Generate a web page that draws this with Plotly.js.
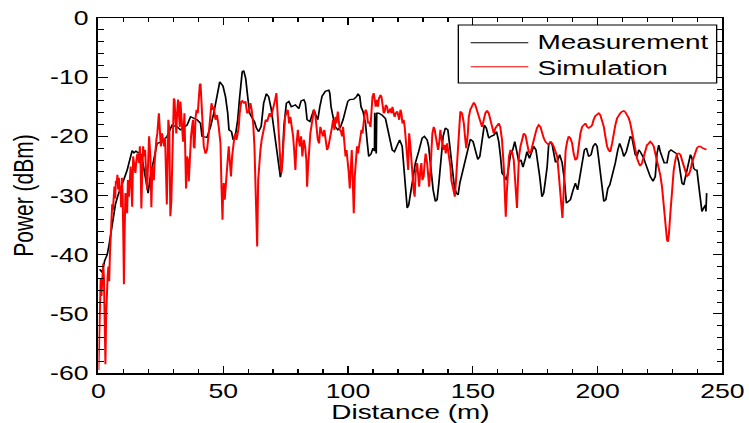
<!DOCTYPE html>
<html>
<head>
<meta charset="utf-8">
<script src="https://cdn.plot.ly/plotly-3.0.1.min.js"></script>
<style>
  html, body { margin: 0; padding: 0; background: #fff; overflow: hidden; }
  /* the figure is laid out narrow and widened horizontally */
  #chart { width: 563px; height: 423px; transform: scaleX(1.33037); transform-origin: 0 0; }
</style>
</head>
<body>
<div id="chart"></div>
<script>
// Measured received power along the route
const measDist = [
  0.5,1.5,2.5,3.5,4.2,5.0,5.8,6.8,7.8,8.8,
  10.0,11.5,12.8,13.5,14.2,15.0,16.2,17.0,17.8,18.8,
  19.9,20.8,22.2,23.5,25.5,27.5,29.5,31.5,32.85,35.5,
  36.9,39.5,40.9,41.5,43.5,44.9,46.2,47.5,48.6,49.9,
  50.9,51.8,52.3,53.3,54.0,54.9,55.8,56.6,57.6,58.2,
  59.0,59.8,60.6,61.6,62.5,63.3,64.2,65.2,66.2,67.3,
  68.2,69.2,70.2,71.3,72.2,72.9,73.6,74.3,75.3,76.3,
  77.3,78.9,80.3,81.2,82.3,82.9,83.6,84.7,85.6,86.3,
  87.1,87.9,88.7,89.6,90.9,92.3,92.7,93.2,94.0,94.9,
  95.9,97.0,98.0,99.0,99.9,100.7,102.3,103.4,104.0,104.7,
  105.2,106.0,107.0,107.6,108.3,109.2,110.0,110.6,110.7,111.3,
  111.5,112.3,113.6,115.0,115.65,116.3,117.0,117.7,118.6,119.7,
  120.7,121.7,122.3,123.0,123.7,124.3,125.0,125.7,127.0,128.3,
  129.7,130.6,131.7,132.3,133.0,134.1,135.0,135.7,136.4,137.3,
  138.1,139.0,140.0,140.8,141.7,142.6,143.4,144.1,144.8,146.1,
  147.0,148.0,149.0,150.1,151.0,152.0,152.8,153.7,154.6,155.4,
  156.4,157.3,158.4,159.5,160.4,161.1,161.7,162.7,163.5,164.4,
  165.1,166.0,166.8,167.5,168.4,169.3,170.1,171.1,171.7,172.7,
  173.5,174.4,175.3,176.0,176.8,177.7,178.4,179.1,179.8,180.4,
  181.1,181.8,182.4,183.1,183.8,184.8,185.8,186.7,187.5,188.4,
  189.1,190.2,191.1,192.0,192.8,193.8,194.7,195.5,196.4,197.4,
  198.2,199.1,199.8,200.5,201.1,201.8,202.5,203.3,204.1,204.9,
  206.2,207.1,208.1,208.85,209.8,210.5,211.5,212.5,213.1,213.8,
  214.5,215.1,215.8,216.5,217.1,217.8,218.5,219.1,220.1,221.1,
  222.2,223.1,223.8,224.5,225.1,225.8,226.7,227.8,228.6,229.4,
  230.5,231.6,232.5,233.2,233.8,234.5,235.2,235.8,236.5,237.2,
  237.8,238.5,239.2,239.8,240.5,241.2,241.8,242.5,243.2,243.4,243.7
];
const measPower = [
  -42.5,-43,-41,-40,-38.5,-36,-34,-31.5,-30,-29,
  -27.5,-25.7,-23.4,-22.4,-22.8,-22.5,-22.8,-23,-24.5,-27.4,
  -29.6,-26.8,-24,-21.2,-20.9,-20,-18.1,-18.4,-18.9,-18.1,
  -16.7,-17.2,-17.8,-20.0,-20.2,-18.4,-16.1,-12.7,-10.8,-11.5,
  -13.3,-16.1,-18.9,-19.2,-20.6,-19.8,-17.2,-13.3,-9.1,-8.9,
  -10.2,-13.3,-16.1,-16.9,-17.5,-18.6,-19.2,-18.3,-14.4,-12.8,
  -13.3,-15.3,-18.4,-21.2,-24.0,-26.9,-25.1,-18.4,-14.4,-14.1,
  -15.0,-14.7,-15.3,-14.0,-13.8,-14.4,-17.2,-17.5,-16.4,-15.5,
  -16.4,-17.2,-15.0,-13.2,-12.4,-12.2,-12.7,-15.0,-16.7,-18.4,
  -18.9,-18.4,-17.2,-15.8,-14.1,-13.8,-13.7,-13.3,-12.8,-13.2,
  -15.0,-15.8,-17.8,-20.6,-23.4,-23.0,-22.0,-22.5,-16.0,-22.9,
  -16.1,-16.1,-16.4,-17.0,-18.4,-20.0,-21.5,-22.3,-22.6,-21.7,
  -20.6,-21.7,-25.1,-29.6,-32.1,-31.6,-29.6,-27.4,-24.5,-22.6,
  -20.3,-20.0,-20.6,-21.7,-25.1,-29.05,-31.0,-30.7,-27.9,-23.4,
  -20.0,-18.6,-18.9,-21.7,-25.1,-28.5,-29.6,-29.9,-27.9,-25.4,
  -23.7,-21.7,-20.5,-20.9,-22.3,-23.9,-23.4,-20.6,-18.1,-18.6,
  -20.3,-20.0,-19.8,-19.2,-20.9,-23.4,-26.2,-26.8,-27.4,-25.1,
  -23.1,-22.3,-20.9,-22.3,-24.3,-24.0,-25.2,-23.7,-22.6,-23.7,
  -22.9,-21.7,-22.3,-24.0,-26.8,-30.2,-29.6,-27.4,-25.1,-21.4,
  -20.9,-21.4,-22.9,-24.3,-24.3,-23.1,-24.5,-27.4,-31.3,-31.0,
  -30.7,-29.05,-27.9,-29.05,-26.8,-24.5,-22.3,-22.0,-23.4,-23.1,
  -21.7,-21.2,-21.7,-24.0,-26.5,-29.05,-31.0,-30.7,-28.8,-28.2,
  -26.2,-24.5,-22.3,-21.2,-22.3,-23.4,-22.6,-20.6,-20.0,-20.3,
  -22.0,-23.1,-23.4,-22.3,-22.6,-23.1,-23.7,-24.5,-25.7,-26.8,
  -27.6,-26.8,-22.9,-21.5,-22.6,-23.7,-24.5,-24.5,-22.6,-22.3,
  -22.6,-22.9,-24.3,-26.0,-27.9,-28.2,-26.8,-25.4,-24.3,-23.1,
  -23.7,-25.4,-25.7,-25.7,-28.2,-31.6,-32.7,-32.1,-31.6,-32.7,-29.6
];

// Simulated received power along the same route
const simDist = [
  0.0,0.3,0.6,0.9,1.2,1.5,1.9,2.2,2.5,2.8,
  3.1,3.4,3.7,4.0,4.3,4.6,4.9,5.2,5.5,5.8,
  6.1,6.4,6.7,7.0,7.3,7.6,7.9,8.2,8.5,8.8,
  9.1,9.4,9.7,10.0,10.2,10.5,10.8,11.1,11.5,11.8,
  12.2,12.6,12.9,13.2,13.5,13.9,14.3,14.8,15.2,15.6,
  16.2,16.6,16.9,17.2,17.5,17.9,18.3,18.7,19.1,19.5,
  19.9,20.3,20.8,21.2,21.6,22.2,22.5,22.8,23.2,23.6,
  23.9,24.2,24.6,25.0,25.3,25.5,25.9,26.3,26.7,27.1,
  27.4,27.7,28.0,28.4,28.8,29.2,29.5,29.8,30.2,30.5,
  30.85,31.2,31.5,31.9,32.2,32.6,
  32.85,33.5,33.9,34.45,34.85,35.1,35.5,35.9,36.2,36.6,
  37.1,37.5,37.9,38.2,38.5,38.9,39.3,39.8,40.2,40.6,
  40.9,41.3,41.7,42.2,42.9,43.5,44.2,44.9,45.3,45.8,
  46.2,46.9,47.5,48.2,48.9,49.3,49.7,49.95,50.2,50.6,
  51.0,51.5,52.2,52.6,53.1,53.55,54.0,54.5,54.9,55.3,
  55.8,56.2,56.6,57.2,57.7,58.2,58.9,59.6,60.2,60.9,
  61.4,62.0,62.5,63.0,63.6,64.0,64.4,64.9,65.4,66.0,
  66.5,67.0,67.6,68.1,68.6,69.2,69.7,70.2,70.8,71.3,
  71.7,72.1,72.5,72.9,73.3,73.7,74.25,74.8,75.3,75.85,
  76.4,76.9,77.45,78.0,78.5,78.9,79.3,79.9,80.3,80.7,
  81.2,81.7,82.3,82.8,83.3,83.6,84.0,84.4,84.9,85.3,
  85.7,86.3,86.9,87.3,87.9,88.4,88.9,89.6,90.0,90.5,
  91.1,91.6,92.15,92.7,93.2,93.6,94.0,94.55,95.0,95.35,
  95.9,96.3,96.7,97.2,97.6,98.0,98.6,99.0,99.4,99.9,
  100.3,100.7,101.1,101.5,101.9,102.3,102.7,103.1,103.6,104.0,
  104.4,105.0,105.4,105.8,106.3,106.7,107.1,107.6,108.0,108.4,
  109.0,109.4,109.8,110.3,110.7,111.1,111.6,112.0,112.4,113.0,
  113.4,113.8,114.3,114.7,115.1,115.65,116.05,116.45,117.0,117.4,
  117.8,118.3,118.7,119.1,119.7,120.1,120.5,121.0,121.4,121.8,
  122.3,122.7,123.1,123.7,124.1,124.5,125.0,125.4,125.8,126.3,
  126.7,127.1,127.7,128.1,128.5,129.0,129.4,129.8,130.3,130.7,
  131.1,131.7,132.1,132.5,133.0,133.4,133.8,134.35,134.75,135.15,
  135.7,136.1,136.5,137.0,137.4,137.8,138.35,138.75,139.15,139.7,
  140.1,140.5,141.0,141.4,141.8,142.4,142.8,143.2,143.7,144.1,
  144.5,145.0,145.7,146.4,147.0,147.4,148.0,148.4,149.0,149.7,
  150.4,151.0,151.7,152.4,153.0,153.7,154.4,155.0,155.7,156.4,
  157.05,157.7,158.4,159.05,159.7,160.4,161.0,161.7,162.4,162.8,
  163.2,163.6,164.0,164.5,165.1,165.7,166.4,166.8,167.2,167.7,
  168.1,168.5,169.1,169.7,170.4,171.1,171.7,172.4,173.1,173.7,
  174.4,175.1,175.7,176.4,177.1,177.75,178.4,179.1,179.8,180.4,
  181.1,181.8,182.4,183.1,183.8,184.4,185.1,185.5,185.9,186.3,
  186.7,187.2,187.8,188.4,189.1,189.8,190.4,191.1,191.8,192.4,
  193.1,193.8,194.4,195.1,195.8,196.4,197.1,197.8,198.4,199.1,
  199.8,200.45,201.1,201.8,202.5,203.1,203.8,204.5,205.1,205.8,
  206.4,207.1,207.8,208.45,209.1,209.8,210.5,211.1,211.8,212.5,
  213.1,213.8,214.5,215.1,215.8,216.5,217.1,217.8,218.5,219.1,
  219.8,220.5,221.1,221.8,222.5,223.1,223.8,224.5,225.1,225.8,
  226.5,227.15,227.8,228.2,228.6,229.15,229.8,230.5,231.15,231.8,
  232.5,233.2,233.8,234.5,235.2,235.8,236.5,237.2,237.8,238.5,
  239.2,239.8,240.5,241.2,241.8,242.5,243.2,243.6
];
const simPower = [
  -59.5,-52,-47,-44,-47,-43,-41.5,-44,-50,-58.5,
  -50,-45,-43.5,-42,-44.5,-40,-36,-34,-31.5,-32.5,
  -29.5,-28.5,-30.5,-27.5,-28,-26.5,-29,-27,-29.5,-28.5,
  -32,-27,-30,-38,-45,-36,-29.6,-31,-33,-27.4,
  -30.2,-26.2,-25.1,-28,-31.9,-23.4,-24.5,-26.2,-24,-22.9,
  -24.5,-21.7,-25.1,-32.2,-26.8,-21.7,-23.4,-22.3,-26.2,-29,
  -24.5,-20,-23.4,-32,-25.1,-27.4,-24.5,-21.7,-20.6,-19.5,
  -17.2,-16.1,-18.9,-21.7,-20.6,-19.5,-20.6,-21.7,-20.3,-29,
  -31.5,-24.5,-17.2,-18.9,-33.5,-31,-27.4,-20.6,-13.6,-13.9,
  -17.2,-19.5,-16.1,-13.8,-16,-18.4,
  -14.1,-17.2,-20.9,-16.1,-21.2,-28.8,-23.4,-24.0,-27.6,-22.9,
  -20.0,-18.4,-17.2,-21.7,-22.0,-16.9,-15.5,-16.1,-12.7,-11.3,
  -11.1,-13.8,-18.4,-21.7,-22.9,-22.3,-19.5,-15.5,-14.4,-15.5,
  -15.0,-17.2,-16.4,-18.4,-21.2,-28.5,-34.1,-29.6,-27.9,-30.7,
  -28.5,-25.1,-21.7,-24.0,-26.8,-23.4,-21.4,-20.0,-19.5,-20.6,
  -19.5,-18.4,-16.1,-14.1,-14.0,-14.4,-14.1,-16.1,-15.8,-14.4,
  -15.5,-17.8,-21.7,-29.05,-38.6,-27.4,-23.4,-22.3,-20.6,-18.9,
  -17.8,-17.2,-17.5,-16.9,-16.1,-16.7,-15.5,-15.0,-13.8,-12.7,
  -15.0,-19.5,-21.2,-24.5,-26.2,-24.0,-19.5,-16.7,-16.1,-15.5,
  -17.8,-16.7,-18.4,-20.0,-22.9,-25.7,-21.7,-18.9,-20.6,-21.7,
  -20.0,-23.4,-20.6,-21.7,-24.0,-28.5,-25.1,-21.7,-19.5,-18.4,
  -17.2,-15.5,-16.4,-18.4,-20.6,-21.2,-18.4,-19.5,-20.0,-18.9,
  -20.6,-22.3,-21.7,-20.6,-18.9,-18.4,-17.2,-18.9,-16.7,-17.8,
  -15.8,-18.4,-18.9,-19.2,-20.0,-18.4,-22.3,-23.4,-22.3,-24.0,
  -26.2,-28.8,-24.0,-22.3,-27.4,-33.0,-26.8,-23.4,-21.7,-22.9,
  -21.7,-20.0,-18.9,-19.5,-17.2,-16.1,-15.5,-16.1,-17.8,-17.5,
  -18.4,-15.5,-13.3,-12.7,-14.4,-15.0,-13.85,-15.0,-13.6,-13.0,
  -13.3,-15.0,-16.1,-15.8,-14.7,-15.0,-16.1,-15.8,-15.3,-16.1,
  -15.0,-16.1,-16.7,-16.1,-15.8,-16.4,-17.2,-15.5,-16.1,-17.8,
  -17.2,-18.4,-20.0,-23.4,-25.7,-19.5,-21.7,-24.5,-26.2,-29.05,
  -30.2,-26.2,-24.5,-27.4,-28.5,-25.7,-24.5,-27.4,-26.8,-24.5,
  -22.9,-24.5,-26.8,-28.5,-25.7,-21.7,-19.5,-18.4,-18.9,-20.0,
  -21.7,-22.3,-21.2,-18.9,-20.3,-21.7,-22.3,-21.45,-22.9,-21.2,
  -22.3,-22.9,-25.1,-27.4,-28.5,-29.6,-30.2,-27.9,-24.0,-20.6,
  -17.8,-15.8,-16.1,-17.8,-20.6,-22.0,-19.5,-16.7,-15.5,-14.7,
  -14.3,-14.7,-15.8,-16.7,-17.5,-18.4,-17.2,-16.1,-15.65,-16.1,
  -17.2,-18.4,-19.5,-18.6,-18.1,-17.8,-18.4,-20.6,-25.1,-29.05,
  -33.6,-29.6,-25.7,-23.4,-22.3,-22.6,-24.0,-26.2,-29.6,-32.1,
  -27.4,-23.4,-21.7,-20.3,-19.5,-19.8,-21.2,-22.6,-22.9,-21.7,
  -20.6,-19.5,-18.6,-18.1,-18.4,-19.5,-20.3,-20.9,-21.2,-21.45,
  -20.9,-21.2,-21.7,-22.6,-23.4,-26.2,-29.6,-32.1,-33.8,-30.2,
  -25.7,-22.3,-20.9,-20.0,-20.3,-21.2,-22.9,-24.0,-23.7,-21.7,
  -19.5,-18.4,-18.1,-17.8,-18.4,-18.6,-18.4,-18.1,-17.2,-16.55,
  -16.3,-16.1,-16.4,-17.2,-18.4,-20.0,-21.7,-22.4,-22.6,-21.2,
  -19.5,-18.1,-16.95,-16.4,-16.1,-15.8,-15.7,-15.9,-16.4,-16.95,
  -17.8,-19.5,-21.45,-22.6,-23.7,-24.5,-25.0,-24.5,-23.4,-22.3,
  -21.45,-21.2,-20.9,-21.2,-21.7,-22.9,-24.0,-25.1,-26.5,-28.5,
  -31.9,-35.2,-37.5,-37.8,-36.4,-33.0,-29.05,-25.7,-24.0,-23.0,
  -22.9,-23.1,-24.0,-25.1,-25.95,-26.7,-26.5,-25.7,-24.5,-23.4,
  -22.6,-22.0,-21.7,-21.7,-21.9,-22.0,-22.2,-22.1
];

// Axis ticks (plain hyphen-minus in the labels)
const xTickVals = [0, 50, 100, 150, 200, 250];
const xTickText = ['0', '50', '100', '150', '200', '250'];
const yTickVals = [-60, -50, -40, -30, -20, -10, 0];
const yTickText = ['-60', '-50', '-40', '-30', '-20', '-10', '0'];

const seriesNames = ['Measurement', 'Simulation'];
const seriesColors = ['#000000', '#ff0000'];

const traces = [
  {
    x: measDist, y: measPower, name: seriesNames[0],
    type: 'scatter', mode: 'lines',
    line: { color: seriesColors[0], width: 1.3 }
  },
  {
    x: simDist, y: simPower, name: seriesNames[1],
    type: 'scatter', mode: 'lines',
    line: { color: seriesColors[1], width: 1.5 }
  }
];

// Boxed key in the upper right corner, placed in paper coordinates
const keyBox = { x0: 0.5768, x1: 0.9908, y0: 0.8169, y1: 0.9803 };
const keyLineX = [0.5966, 0.6889];
const keyRowY = [0.9304, 0.8628];
const keyTextX = 0.7013;
const keyTextY = [0.9340, 0.8610];

const shapes = [
  { type: 'rect', xref: 'paper', yref: 'paper', layer: 'above',
    x0: keyBox.x0, x1: keyBox.x1, y0: keyBox.y0, y1: keyBox.y1,
    line: { color: '#000', width: 1 }, fillcolor: '#ffffff' }
];
const annotations = [];
seriesNames.forEach(function (name, i) {
  shapes.push({ type: 'line', xref: 'paper', yref: 'paper', layer: 'above',
    x0: keyLineX[0], x1: keyLineX[1], y0: keyRowY[i], y1: keyRowY[i],
    line: { color: seriesColors[i], width: 1 } });
  annotations.push({ xref: 'paper', yref: 'paper', x: keyTextX, y: keyTextY[i],
    xanchor: 'left', yanchor: 'middle', showarrow: false, borderpad: 0,
    text: name, font: { size: 21, color: '#000' } });
});

const axisCommon = {
  ticks: 'inside', ticklen: 7, tickwidth: 1, tickcolor: '#000',
  showline: true, linecolor: '#000', linewidth: 1.5, mirror: 'allticks',
  showgrid: false, zeroline: false, automargin: false,
  tickfont: { size: 20, color: '#000' }
};

const layout = {
  width: 563, height: 423,
  margin: { l: 74, r: 20, t: 18, b: 50 },
  paper_bgcolor: '#ffffff', plot_bgcolor: '#ffffff',
  font: { family: '"Liberation Sans", Arial, Helvetica, sans-serif', color: '#000', size: 20 },
  showlegend: false,
  shapes: shapes,
  annotations: annotations,
  xaxis: Object.assign({}, axisCommon, {
    range: [0, 250], tickmode: 'array', tickvals: xTickVals, ticktext: xTickText,
    minor: { ticks: 'inside', ticklen: 4, tickcolor: '#000', tickmode: 'linear', tick0: 0, dtick: 10, showgrid: false },
    title: { text: 'Distance (m)', font: { size: 21, color: '#000' }, standoff: 3 }
  }),
  yaxis: Object.assign({}, axisCommon, {
    range: [-60, 0], tickmode: 'array', tickvals: yTickVals, ticktext: yTickText,
    ticklabelstandoff: 2,
    minor: { ticks: 'inside', ticklen: 4, tickcolor: '#000', tickmode: 'linear', tick0: 0, dtick: 2, showgrid: false },
    title: { text: 'Power (dBm)', font: { size: 21, color: '#000' }, standoff: 6 }
  })
};

Plotly.newPlot('chart', traces, layout, { staticPlot: true, displayModeBar: false });
</script>
</body>
</html>
